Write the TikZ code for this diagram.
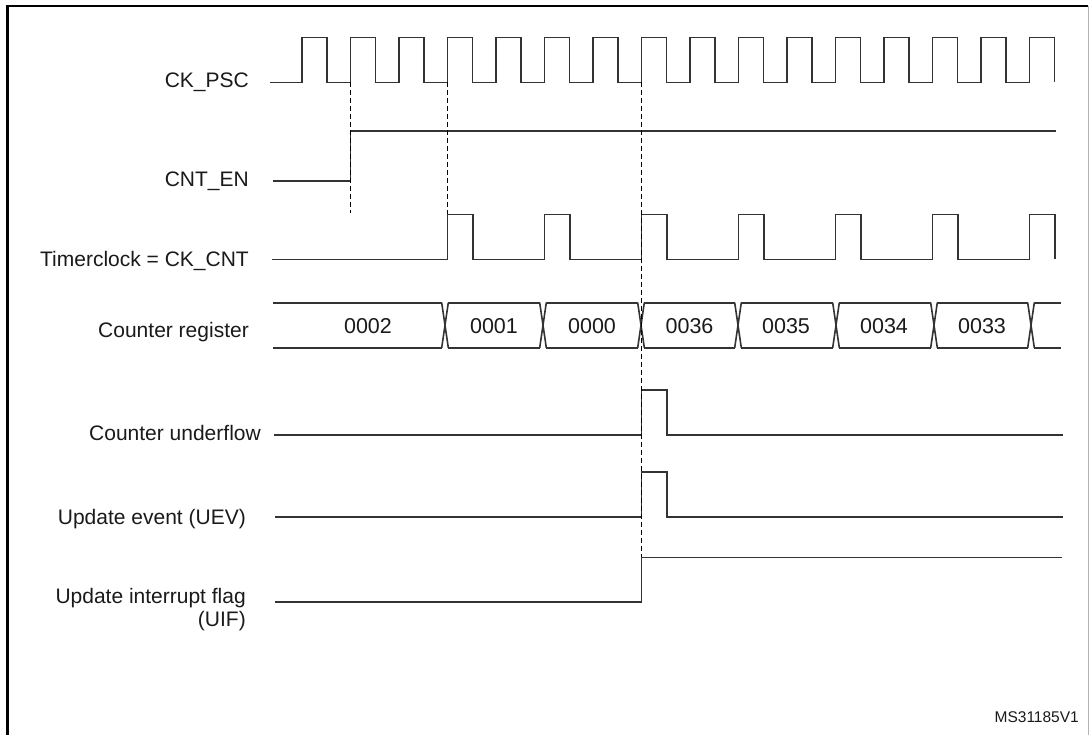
\documentclass[tikz,border=0pt]{standalone}
\usepackage{fontspec}
\setmainfont{Liberation Sans}
\usepackage{tikz}
\definecolor{wave}{RGB}{51,51,51}
\definecolor{ink}{RGB}{26,26,26}
\newcommand{\psctick}[1]{302+48.5*#1}
\newcommand{\drawwave}{\draw[line width=1.6pt, wave]}
\newcommand{\drawmark}{\draw[line width=1.9pt, dash pattern=on 5pt off 3pt]}
\newcommand{\regvalue}[3]{\node[regval] (#1) at (#2,326) {#3};}

\begin{document}
\begin{tikzpicture}[x=1pt, y=-1pt,
    siglabel/.style={anchor=base east, inner sep=0pt, text=ink, font=\fontsize{21}{23.4}\selectfont},
    regval/.style={inner sep=0pt, text=ink, font=\fontsize{21.5}{24}\selectfont}]
\useasboundingbox (0,0) rectangle (1089,734);
% frame
\draw[line width=2.4pt] (7.5,740) -- (7.5,6) -- (1088,6);
\draw[line width=0.8pt, gray!60] (1088,6) -- (1088,740);
% signal names
\node[siglabel] (psc) at (249,87) {CK\_PSC};
\node[siglabel] (cnten) at (249,186) {CNT\_EN};
\node[siglabel] (tclk) at (249,266) {Timerclock = CK\_CNT};
\node[siglabel] (creg) at (249,337) {Counter register};
\node[siglabel] (cunf) at (261,440) {Counter underflow};
\node[siglabel] (uev) at (246,524) {Update event (UEV)};
\node[siglabel, anchor=east, align=right] (uif) at (246,609.5) {Update interrupt flag\\(UIF)};
% waves
\drawwave (270,82.3) \foreach \k in {0,...,15}{ -- ({\psctick{\k}},82.3) -- ++(0,-45) -- ++(25,0) -- ++(0,45) };
\drawwave (272.7,181) -- ({\psctick{1}},181) -- ({\psctick{1}},131) -- (1055.7,131);
\drawwave (271.7,259.3) \foreach \k in {3,5,...,15}{ -- ({\psctick{\k}},259.3) -- ++(0,-45) -- ++(25.5,0) -- ++(0,45) };
\foreach \a/\b in {273/441.7,448.3/539.7,546.3/637.7,644.3/734.7,741.3/832.7,839.3/930.7,937.3/1027.7,1034.3/1061}{
    \drawwave (\a,302.7) -- (\b,302.7);
    \drawwave (\a,347.7) -- (\b,347.7);
}
\foreach \t in {445,543,641,738,836,934,1031}{
    \drawwave (\t-3.3,302.7) -- (\t+3.3,347.7) (\t-3.3,347.7) -- (\t+3.3,302.7);
}
\drawwave (274,435) -- ({\psctick{7}},435) -- ++(0,-45) -- ++(25.5,0) -- ++(0,45) -- (1063,435);
\drawwave (275,516.7) -- ({\psctick{7}},516.7) -- ++(0,-45) -- ++(25.5,0) -- ++(0,45) -- (1063,516.7);
\drawwave (275,601.7) -- ({\psctick{7}},601.7) -- ({\psctick{7}},557.3) -- (1062,557.3);
% counter values
\regvalue{v2}{368}{0002}\regvalue{v1}{494}{0001}\regvalue{v0}{592}{0000}\regvalue{v36}{689.5}{0036}\regvalue{v35}{786}{0035}\regvalue{v34}{884}{0034}\regvalue{v33}{982}{0033}
% edges
\drawmark ({\psctick{1}},82.3) -- ({\psctick{1}},213);
\drawmark ({\psctick{3}},82.3) -- ({\psctick{3}},214);
\drawmark ({\psctick{7}},82.3) -- ({\psctick{7}},557);
\node[anchor=base east, inner sep=0pt, text=ink, font=\fontsize{15.5}{18}\selectfont] (ref) at (1079,722) {MS31185V1};
\end{tikzpicture}
\end{document}
